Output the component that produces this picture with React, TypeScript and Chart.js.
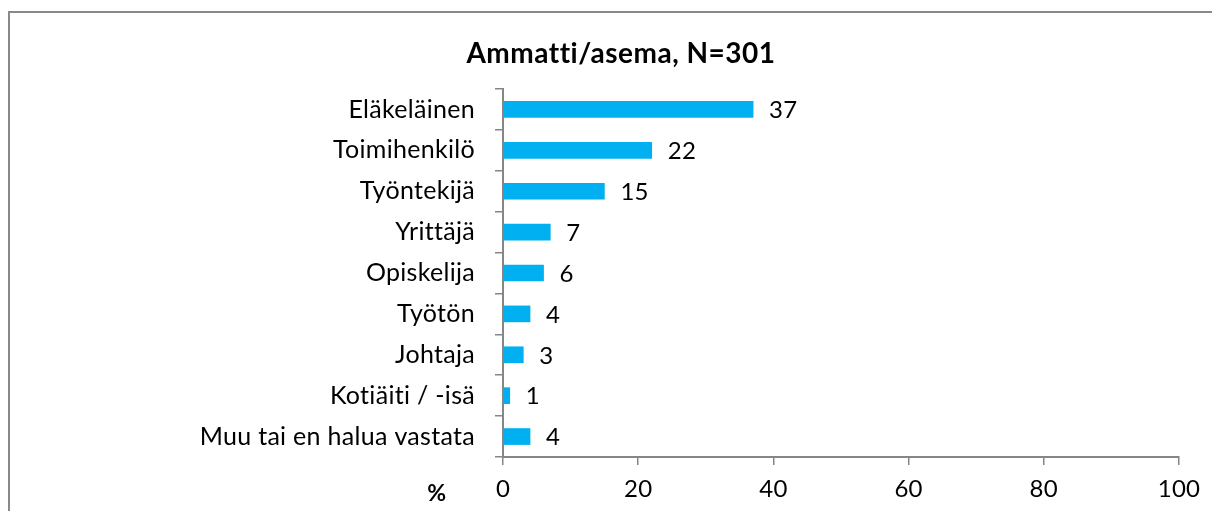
import React, { useEffect, useRef } from "react";
import { Chart, registerables } from "chart.js";

Chart.register(...registerables);

const chartTitle = "Ammatti/asema, N=301";
const categories = [
  "Eläkeläinen",
  "Toimihenkilö",
  "Työntekijä",
  "Yrittäjä",
  "Opiskelija",
  "Työtön",
  "Johtaja",
  "Kotiäiti / -isä",
  "Muu tai en halua vastata",
];
const values = [37, 22, 15, 7, 6, 4, 3, 1, 4];
const axisTitle = "%";
const xMin = 0;
const xMax = 100;
const xStep = 20;

const FONT = "Lato, 'Noto Sans', sans-serif";
const BAR = "#00B0F0";
const AXIS = "#868686";

const spacing = {
  id: "spacing",
  beforeDraw(chart: any) {
    chart.ctx.letterSpacing = "0.3px";
  },
};

const overlay = {
  id: "overlay",
  afterDatasetsDraw(chart: any) {
    const ctx = chart.ctx;
    const meta = chart.getDatasetMeta(0);
    ctx.save();
    ctx.letterSpacing = "0.3px";
    ctx.fillStyle = "#000";
    ctx.font = `24px ${FONT}`;
    ctx.textAlign = "left";
    ctx.textBaseline = "middle";
    meta.data.forEach((el: any, i: number) => {
      ctx.fillText(String(values[i]), el.x + 16, el.y + 1);
    });
    ctx.letterSpacing = "0.5px";
    ctx.font = `bold 28px ${FONT}`;
    ctx.textAlign = "center";
    ctx.textBaseline = "alphabetic";
    ctx.fillText(chartTitle, 613, 55);
    ctx.font = `bold 23px ${FONT}`;
    ctx.fillText(axisTitle, 429, 493);
    ctx.restore();
  },
};

export default function App() {
  const ref = useRef<HTMLCanvasElement>(null);
  useEffect(() => {
    if (!ref.current) return;
    const chart = new Chart(ref.current, {
      type: "bar",
      data: {
        labels: categories,
        datasets: [
          {
            data: values,
            backgroundColor: BAR,
            borderWidth: 0,
            barThickness: 16,
          },
        ],
      },
      plugins: [spacing, overlay],
      options: {
        indexAxis: "y",
        animation: false,
        responsive: false,
        maintainAspectRatio: false,
        layout: { padding: { top: 81, right: 41, left: 0, bottom: 0 } },
        plugins: {
          legend: { display: false },
          title: { display: false },
          tooltip: { enabled: false },
        },
        scales: {
          x: {
            min: xMin,
            max: xMax,
            ticks: {
              stepSize: xStep,
              color: "#000",
              font: { family: FONT, size: 24 },
              padding: 10,
              maxRotation: 0,
            },
            grid: {
              drawOnChartArea: false,
              drawTicks: true,
              tickLength: 8,
              color: AXIS,
              lineWidth: 1.5,
            },
            border: { display: true, color: AXIS, width: 2 },
            afterFit(scale: any) {
              scale.height = 54;
            },
          },
          y: {
            ticks: {
              color: "#000",
              font: { family: FONT, size: 25 },
              padding: 20,
              autoSkip: false,
            },
            grid: {
              drawOnChartArea: false,
              drawTicks: true,
              tickLength: 8,
              color: AXIS,
              lineWidth: 1.5,
            },
            border: { display: true, color: AXIS, width: 2 },
            afterFit(scale: any) {
              scale.width = 495;
            },
          },
        },
      },
    } as any);
    return () => chart.destroy();
  }, []);

  return (
    <div style={{ position: "relative", width: 1212, height: 503, overflow: "hidden" }}>
      <div
        style={{
          position: "absolute",
          left: 0,
          top: 3,
          width: 1300,
          height: 600,
          border: "2px solid #898989",
          boxSizing: "border-box",
        }}
      />
      <canvas
        ref={ref}
        width={1212}
        height={503}
        style={{ position: "absolute", left: 0, top: 0, width: 1212, height: 503 }}
      />
    </div>
  );
}
